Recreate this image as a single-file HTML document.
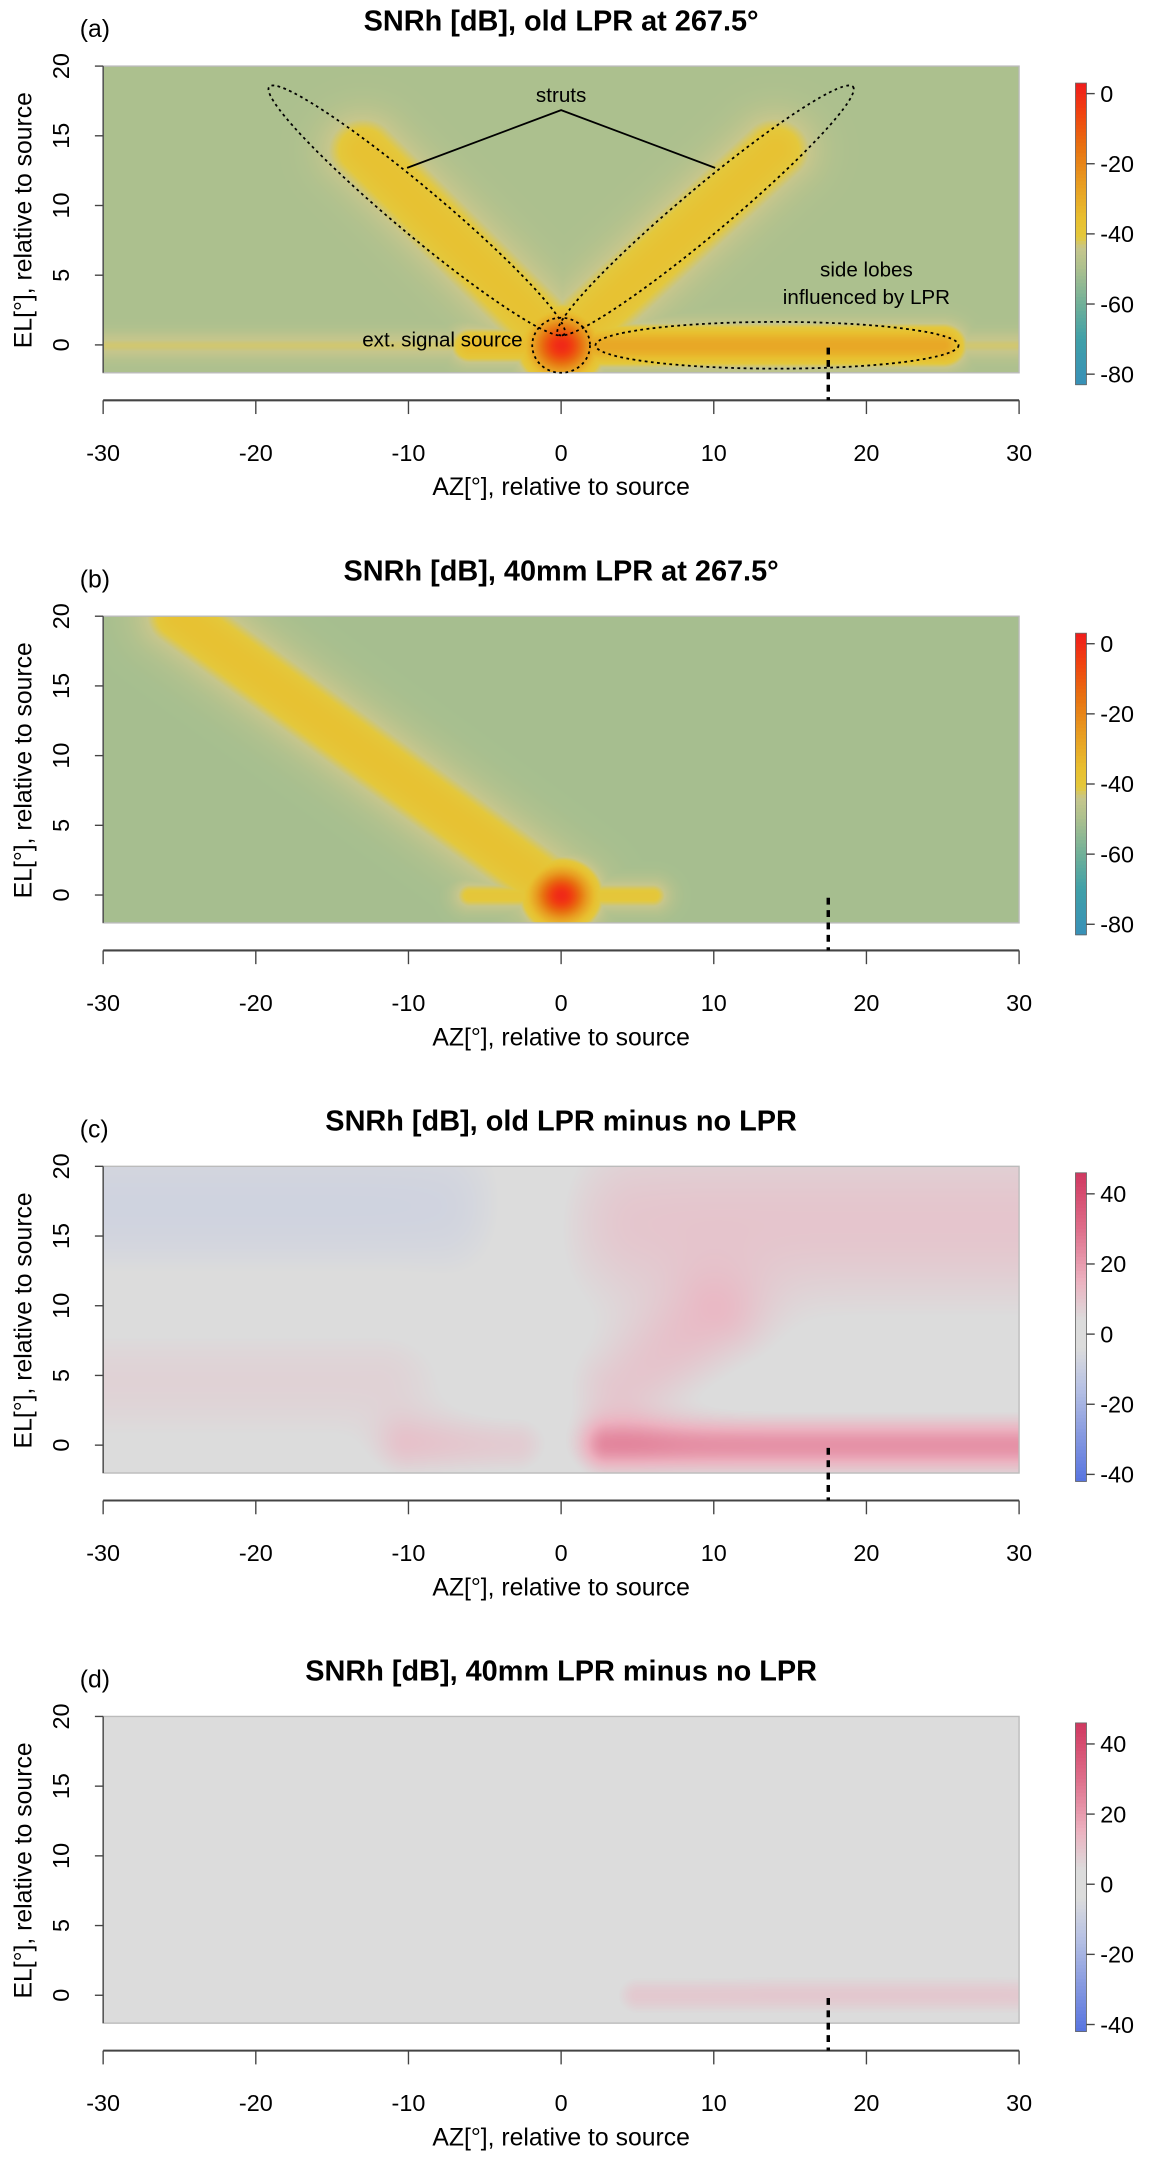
<!DOCTYPE html>
<html><head><meta charset="utf-8"><style>
html,body{margin:0;padding:0;background:#fff;}
#wrap{position:relative;width:1169px;height:2158px;overflow:hidden;}
canvas{position:absolute;}
svg{position:absolute;left:0;top:0;}
text{font-family:"Liberation Sans",sans-serif;fill:#000;}
</style></head><body>
<div id="wrap">
<canvas id="c0"></canvas>
<canvas id="c1"></canvas>
<canvas id="c2"></canvas>
<canvas id="c3"></canvas>
<svg id="svg" width="1169" height="2158" viewBox="0 0 850 1569"></svg>
</div>
<script>
// ---- data (feature descriptions per panel) ----
const panelTitles = ["SNRh [dB], old LPR at 267.5°","SNRh [dB], 40mm LPR at 267.5°","SNRh [dB], old LPR minus no LPR","SNRh [dB], 40mm LPR minus no LPR"];
const panelTags = ["(a)","(b)","(c)","(d)"];
const xTicks = [-30,-20,-10,0,10,20,30];
const yTicks = [0,5,10,15,20];
const cbTicksSNR = [0,-20,-40,-60,-80];
const cbTicksDiff = [40,20,0,-20,-40];
const backgroundLevel = [-50,-51,0,0];
// segments: [az0, el0, az1, el1, width(deg), level]
const featuresA = [[0,0,0,0,1.5,0],[0,0,-13,14,1.8,-37],[0,0,14,14,1.8,-37],[2,0,25,0,1.0,-29],[-30,0,30,0,0.7,-43],[-6,0,6,0,0.9,-35]];
const featuresB = [[0,0,0,0,1.4,0],[0,0,-25,20,1.8,-37],[-6,0,6,0,0.8,-40]];
const featuresC = [[-30,17,-8,17,5,-8],[5,16,30,16,5,10],[-30,5,-12,5,4,7],[3,0,30,0,1.3,22],[4,4,10,9,2.5,9],[-10,0,-3,0,1.5,8]];
const featuresD = [[5,0,30,0,1.0,9],[-25,4,-10,4,2.5,3],[15,6,27,6,2.5,3]];
const markerAz = 17.5;

// ---- geometry (in 850-wide design units) ----
const S = 1169/850;
const X0=75, X1=741, PT=48, PB=271, AXB=291, OFF=400;
const ax = a => X0 + (a+30)/60*(X1-X0);
const ay = (e,o) => o + PT + (20-e)/22*(PB-PT);

const snrStops=[[3,[240,28,28]],[-5,[240,64,16]],[-15,[232,112,16]],[-25,[232,154,32]],[-36,[232,192,48]],[-41,[228,200,60]],[-44,[198,198,140]],[-50,[172,192,142]],[-60,[112,176,152]],[-70,[64,160,168]],[-83,[56,144,184]]];
const diffStops=[[46,[208,56,96]],[30,[222,110,138]],[15,[236,178,192]],[4,[220,220,220]],[-4,[220,220,220]],[-15,[184,194,228]],[-30,[130,150,224]],[-46,[72,104,224]]];
function cmap(v,stops){
  if(v>=stops[0][0])return stops[0][1];
  for(let i=1;i<stops.length;i++){if(v>=stops[i][0]){const a=stops[i-1],b=stops[i];const t=(v-b[0])/(a[0]-b[0]);return [0,1,2].map(k=>b[1][k]+(a[1][k]-b[1][k])*t);}}
  return stops[stops.length-1][1];
}
function segDist(px,py,f){const dx=f[2]-f[0],dy=f[3]-f[1];const L=dx*dx+dy*dy;let t=L?((px-f[0])*dx+(py-f[1])*dy)/L:0;t=Math.max(0,Math.min(1,t));const qx=f[0]+t*dx-px,qy=f[1]+t*dy-py;return Math.sqrt(qx*qx+qy*qy);}
const featureSets=[featuresA,featuresB,featuresC,featuresD];
for(let p=0;p<4;p++){
  const cv=document.getElementById('c'+p);
  const w=Math.round((X1-X0)*S), h=Math.round((PB-PT)*S);
  cv.width=w;cv.height=h;cv.style.left=(X0*S)+'px';cv.style.top=((PT+p*OFF)*S)+'px';
  cv.style.width=w+'px';cv.style.height=h+'px';
  const ctx=cv.getContext('2d');const img=ctx.createImageData(w,h);
  const bg=backgroundLevel[p], fs=featureSets[p], diff=p>=2;
  for(let j=0;j<h;j++){const el=20-j/h*22;
    for(let i=0;i<w;i++){const az=-30+i/w*60;let v;
      if(!diff){v=bg;for(const f of fs){const d=segDist(az,el,f);const val=bg+(f[5]-bg)*Math.exp(-d*d/(2*f[4]*f[4]));if(val>v)v=val;}}
      else{v=bg;for(const f of fs){const d=segDist(az,el,f);v+=f[5]*Math.exp(-d*d/(2*f[4]*f[4]));}}
      const c=cmap(v,diff?diffStops:snrStops);const k=(j*w+i)*4;
      img.data[k]=c[0];img.data[k+1]=c[1];img.data[k+2]=c[2];img.data[k+3]=255;}}
  ctx.putImageData(img,0,0);
}

// ---- SVG overlay ----
const svg=document.getElementById('svg');const NS='http://www.w3.org/2000/svg';
function mk(tag,attrs,parent,txt){const e=document.createElementNS(NS,tag);for(const k in attrs)e.setAttribute(k,attrs[k]);if(txt!==undefined)e.textContent=txt;(parent||svg).appendChild(e);return e;}
for(let p=0;p<4;p++){
  const o=p*OFF;
  const g=mk('g',{});
  
  
  const t=mk('text',{x:408,y:o+22,'text-anchor':'middle','font-size':21,'font-weight':'bold'},g,panelTitles[p]);
  
  
  const tg=mk('text',{x:58,y:o+27,'font-size':18},g,panelTags[p]);
  
  
  mk('rect',{x:X0,y:o+PT,width:X1-X0,height:PB-PT,fill:'none',stroke:'#bbb','stroke-width':1},g);
  mk('line',{x1:X0,y1:o+AXB,x2:X1,y2:o+AXB,stroke:'#444','stroke-width':1.5},g);
  mk('line',{x1:X0,y1:o+PT,x2:X0,y2:o+PB,stroke:'#444','stroke-width':1},g);
  for(const v of xTicks){
    mk('line',{x1:ax(v),y1:o+AXB,x2:ax(v),y2:o+AXB+10,stroke:'#444'},g);
    const l=mk('text',{x:ax(v),y:o+335,'text-anchor':'middle','font-size':17},g,String(v));
    
    
  }
  for(const v of yTicks){
    const y=ay(v,o);
    mk('line',{x1:X0-6,y1:y,x2:X0,y2:y,stroke:'#444'},g);
    const l=mk('text',{x:0,y:0,'text-anchor':'middle','font-size':17,transform:`translate(50,${y}) rotate(-90)`},g,String(v));
    
    
  }
  const xl=mk('text',{x:408,y:o+360,'text-anchor':'middle','font-size':18},g,'AZ[°], relative to source');
  
  
  const yl=mk('text',{x:0,y:0,'text-anchor':'middle','font-size':18,transform:`translate(23,${o+160}) rotate(-90)`},g,'EL[°], relative to source');
  
  
  const ml=mk('line',{x1:ax(markerAz),y1:ay(0,o)+2,x2:ax(markerAz),y2:o+AXB,stroke:'#000','stroke-width':2.5,'stroke-dasharray':'5,4'},g);
  
  
  // colorbar
  const diff=p>=2;const ticks=diff?cbTicksDiff:cbTicksSNR;
  const vTop=diff?46:3, vBot=diff?-42:-83;
  const pxPer=51/20;
  const cy=v=>o+68+(ticks[0]-v)*pxPer;
  const stops=diff?diffStops:snrStops;
  const cbg=mk('g',{},g);
  
  
  for(let v=vTop;v>vBot;v-=1){const c=cmap(v-0.5,stops);mk('rect',{x:782,y:cy(v),width:8,height:pxPer+0.3,fill:`rgb(${c.map(Math.round).join(',')})`},cbg);}
  mk('rect',{x:782,y:cy(vTop),width:8,height:cy(vBot)-cy(vTop),fill:'none',stroke:'#666','stroke-width':0.6},cbg);
  for(const v of ticks){mk('line',{x1:790,y1:cy(v),x2:796,y2:cy(v),stroke:'#444'},cbg);
    const l=mk('text',{x:800,y:cy(v)+6,'font-size':17},cbg,String(v));
    
    }
}
// annotations panel a
const an=mk('g',{fill:'none',stroke:'#000','stroke-width':1.3,'stroke-dasharray':'2,2.5'});


mk('ellipse',{cx:303,cy:153,rx:140,ry:17,transform:'rotate(40 303 153)'},an);
mk('ellipse',{cx:513,cy:153,rx:140,ry:17,transform:'rotate(-40 513 153)'},an);
mk('ellipse',{cx:408,cy:251,rx:21,ry:20},an);
mk('ellipse',{cx:565,cy:251,rx:132,ry:17},an);
mk('polyline',{points:'296,122 408,80 520,122',fill:'none',stroke:'#000','stroke-width':1.3});
mk('text',{x:408,y:74,'text-anchor':'middle','font-size':15},svg,'struts');
mk('text',{x:380,y:252,'text-anchor':'end','font-size':15},svg,'ext. signal source');
mk('text',{x:630,y:201,'text-anchor':'middle','font-size':15},svg,'side lobes');
mk('text',{x:630,y:221,'text-anchor':'middle','font-size':15},svg,'influenced by LPR');
</script>
</body></html>
